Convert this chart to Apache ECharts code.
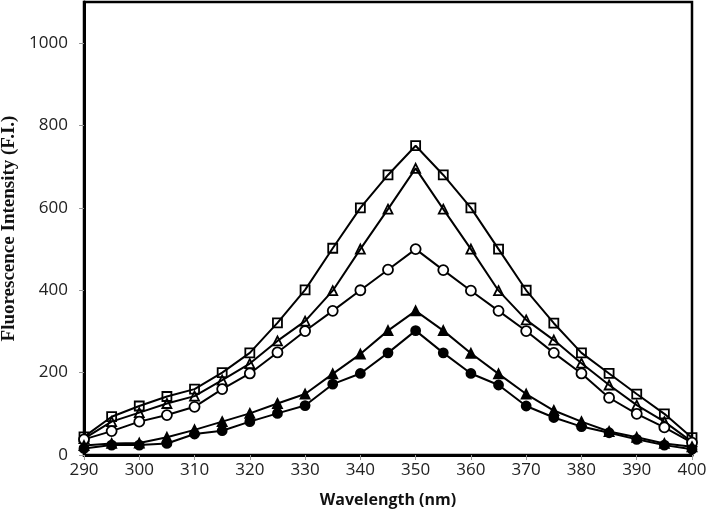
<!DOCTYPE html>
<html>
<head>
<meta charset="utf-8">
<script src="https://cdn.jsdelivr.net/npm/echarts@6/dist/echarts.min.js"></script>
<style>
html,body{margin:0;padding:0;background:#fff;}
#chart{width:708px;height:521px;}
</style>
</head>
<body>
<div id="chart"></div>
<script>
const wavelengths = [290,295,300,305,310,315,320,325,330,335,340,345,350,355,360,365,370,375,380,385,390,395,400];
const yTickValues = [0,200,400,600,800,1000];
const xTickValues = [290,300,310,320,330,340,350,360,370,380,390,400];

const openSquares    = [44,93,119,142,160,200,248,321,401,502,600,680,751,680,600,500,400,320,248,198,148,100,42];
const openTriangles  = [40,81,103,125,143,182,222,277,325,399,500,597,696,597,500,399,328,279,223,170,121,81,32];
const openCircles    = [38,58,81,97,117,160,198,249,301,350,400,450,500,449,399,350,301,248,198,139,100,67,30];
const filledTriangles= [23,28,29,43,61,81,101,125,148,197,245,302,350,302,247,197,148,108,81,57,43,28,20];
const filledCircles  = [16,24,24,28,51,59,81,101,120,172,198,248,302,248,198,170,119,91,69,54,38,24,14];

function pairs(vals){ return wavelengths.map((w,i)=>[w, vals[i]]); }

function mk(name, vals, symbol, size, fill){
  return {
    name, type:'line', data: pairs(vals), symbol, symbolSize:size,
    showAllSymbol:true,
    lineStyle:{color:'#000', width:2},
    itemStyle:{color:fill, borderColor:'#000', borderWidth:1.8},
    emphasis:{disabled:true}, animation:false, z:3
  };
}

const chart = echarts.init(document.getElementById('chart'), null, {renderer:'canvas'});
chart.setOption({
  animation:false,
  backgroundColor:'#fff',
  grid:{left:84, right:16, top:2, bottom:66, outerBoundsMode:'none', containLabel:false,
        show:true, borderColor:'#000', borderWidth:2.5, backgroundColor:'transparent'},
  xAxis:{
    type:'value', min:290, max:400, interval:10,
    name:'Wavelength (nm)', nameLocation:'middle', nameGap:37,
    nameTextStyle:{fontFamily:'Open Sans', fontWeight:'bold', fontSize:16, color:'#111'},
    axisLine:{show:true, lineStyle:{color:'#000', width:3}},
    axisTick:{show:true, inside:false, length:5, lineStyle:{color:'#999', width:1}, customValues:xTickValues},
    axisLabel:{fontFamily:'Open Sans', fontSize:17, color:'#222', margin:7, customValues:xTickValues,
               formatter:(v)=>String(v)},
    splitLine:{show:false}
  },
  yAxis:{
    type:'value', min:0, max:1100, interval:200,
    name:'Fluorescence Intensity (F.I.)', nameLocation:'middle', nameGap:59,
    nameTextStyle:{fontFamily:'Liberation Serif', fontWeight:'bold', fontSize:19, color:'#111'},
    axisLine:{show:true, lineStyle:{color:'#000', width:3}},
    axisTick:{show:true, length:5, lineStyle:{color:'#999', width:1}, customValues:yTickValues},
    axisLabel:{fontFamily:'Open Sans', fontSize:17, color:'#222', margin:16, customValues:yTickValues,
               formatter:(v)=>String(v)},
    splitLine:{show:false}
  },
  series:[
    mk('s1', openSquares, 'rect', 9, 'rgba(255,255,255,0)'),
    mk('s2', openTriangles, 'triangle', 9, 'rgba(255,255,255,0)'),
    mk('s3', openCircles, 'circle', 10, '#fff'),
    mk('s4', filledTriangles, 'triangle', 9, '#000'),
    mk('s5', filledCircles, 'circle', 9, '#000')
  ]
});
</script>
</body>
</html>
